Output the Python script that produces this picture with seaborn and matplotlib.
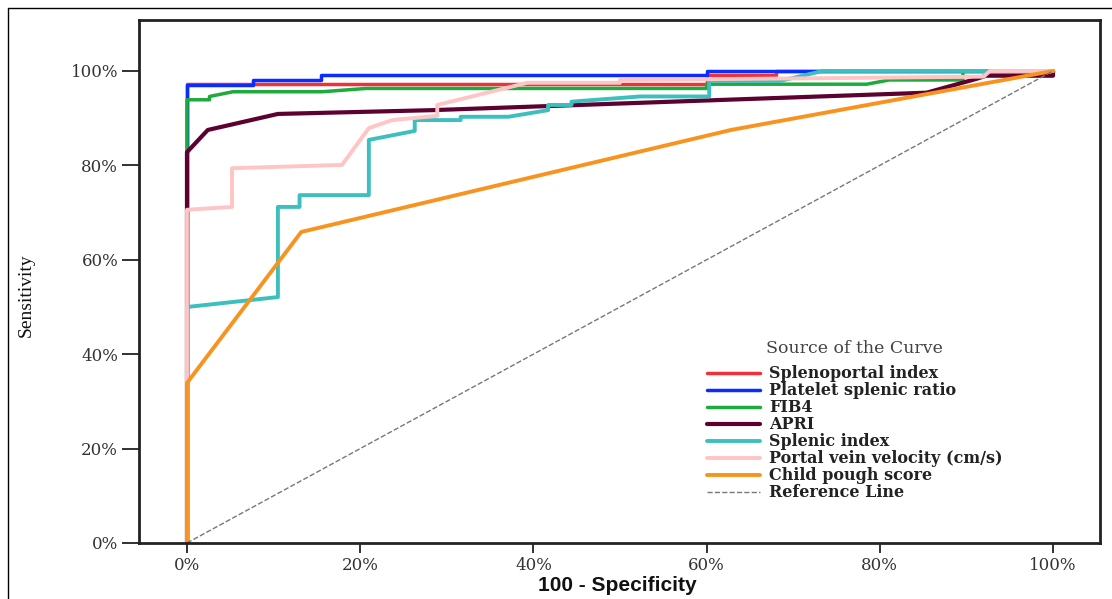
import matplotlib
matplotlib.use("Agg")
import matplotlib.pyplot as plt
from matplotlib.lines import Line2D
import seaborn as sns

# ROC curves (x = 100 - specificity, y = sensitivity, in %)
curve_names = ["Splenoportal index", "Platelet splenic ratio", "FIB4", "APRI",
               "Splenic index", "Portal vein velocity (cm/s)", "Child pough score"]

spleno_x = [0, 0, 60, 60, 68, 68, 100]
spleno_y = [0, 97.2, 97.2, 99.2, 99.2, 100, 100]

platelet_x = [0, 0, 7.6, 7.6, 15.5, 15.5, 60, 60, 100]
platelet_y = [0, 97.0, 97.0, 98.1, 98.1, 99.2, 99.2, 100, 100]

fib4_x = [0, 0, 2.6, 2.6, 5.3, 15.6, 20.7, 60, 60, 78.5, 81.1, 89.6, 89.6, 100]
fib4_y = [0, 93.9, 93.9, 94.6, 95.6, 95.6, 96.3, 96.3, 97.2, 97.2, 98.1, 98.1, 100, 100]

apri_x = [0, 0, 0, 2.4, 10.5, 28.3, 85.4, 91.1, 92.3, 100, 100]
apri_y = [0, 71.2, 82.8, 87.5, 90.9, 91.7, 95.4, 98.3, 99.0, 99.0, 100]

splenic_x = [0, 0, 10.5, 10.5, 13, 13, 21, 21, 26.3, 26.3, 31.6, 31.6, 37.1, 41.7,
             41.7, 44.4, 44.4, 52.3, 60.3, 60.3, 68.5, 73.4, 100]
splenic_y = [0, 50.0, 52.1, 71.2, 71.2, 73.7, 73.7, 85.4, 87.3, 89.6, 89.6, 90.3, 90.3, 91.7,
             92.8, 92.8, 93.5, 94.6, 94.6, 97.9, 97.9, 100, 100]

portal_x = [0, 0, 5.2, 5.2, 17.9, 21, 23.7, 28.9, 28.9, 39.3, 50, 50, 75, 92, 92.7, 100]
portal_y = [0, 70.6, 71.2, 79.4, 80.1, 87.9, 89.6, 90.5, 92.8, 97.5, 97.5, 98.1, 98.5, 98.8, 100, 100]

child_x = [0, 0, 13.2, 62.8, 100]
child_y = [0, 33.9, 65.9, 87.5, 100]

ref_x = [0, 100]
ref_y = [0, 100]

tick_vals = [0, 20, 40, 60, 80, 100]

series = [(spleno_x, spleno_y), (platelet_x, platelet_y), (fib4_x, fib4_y),
          (apri_x, apri_y), (splenic_x, splenic_y), (portal_x, portal_y),
          (child_x, child_y)]
colors = ["#f2303a", "#0a2cff", "#1eaa3c", "#5c0130", "#3dbfbf", "#ffc4c4", "#f7931e"]
widths = [2.5, 2.5, 2.5, 3.0, 2.8, 2.8, 2.8]

sns.set_style("white")
plt.rcParams["font.family"] = ["DejaVu Serif"]

fig = plt.figure(figsize=(11.12, 5.99), dpi=100)
ax = fig.add_axes([0.125, 0.0935, 0.864, 0.8731])

for (xs, ys), name, c, lw in zip(series, curve_names, colors, widths):
    sns.lineplot(x=xs, y=ys, sort=False, estimator=None, color=c, linewidth=lw,
                 label=name, ax=ax)
sns.lineplot(x=ref_x, y=ref_y, sort=False, estimator=None, color="#777777",
             linewidth=1, linestyle="--", label="Reference Line", ax=ax)

ax.set_xlim(-5.54, 105.4)
ax.set_ylim(0, 110.8)
ax.set_xticks(tick_vals)
ax.set_yticks(tick_vals)
ax.set_xticklabels([f"{v}%" for v in tick_vals])
ax.set_yticklabels([f"{v}%" for v in tick_vals])
ax.tick_params(axis="x", direction="out", length=7, width=1.3, color="#222222",
               pad=3, labelsize=12, labelcolor="#333333", bottom=True)
ax.tick_params(axis="y", direction="out", length=12, width=1.3, color="#222222",
               pad=3, labelsize=12, labelcolor="#333333", left=True)

for sp in ax.spines.values():
    sp.set_visible(True)
    sp.set_linewidth(2)
    sp.set_color("#222222")

ax.set_xlabel("100 - Specificity", fontsize=15, fontweight="bold",
              family=["Liberation Sans", "DejaVu Sans"], color="#111111")
ax.xaxis.set_label_coords(0.4975, -0.064)
ax.set_ylabel("Sensitivity", fontsize=14, family=["Liberation Serif", "DejaVu Serif"],
              color="#111111")
ax.yaxis.set_label_coords(-0.109, 0.474)

leg = ax.legend(loc="upper left", bbox_to_anchor=(707 / 1112, 1 - 340 / 599),
                bbox_transform=fig.transFigure, frameon=False, borderpad=0,
                borderaxespad=0, handlelength=3.3, handletextpad=0.6,
                labelspacing=0.0, title="Source of the Curve",
                prop={"family": "DejaVu Serif", "weight": "bold", "size": 11.5})
leg.get_title().set_fontsize(12.5)
leg.get_title().set_color("#444444")
leg._legend_box.sep = 6
for t in leg.get_texts():
    t.set_color("#222222")

# thin outer frame of the original image
fig.add_artist(Line2D([8 / 1112, 1], [1 - 8 / 599, 1 - 8 / 599],
                      transform=fig.transFigure, color="black", lw=1))
fig.add_artist(Line2D([8 / 1112, 8 / 1112], [0, 1 - 8 / 599],
                      transform=fig.transFigure, color="black", lw=1))

fig.savefig("out.png", dpi=100)
